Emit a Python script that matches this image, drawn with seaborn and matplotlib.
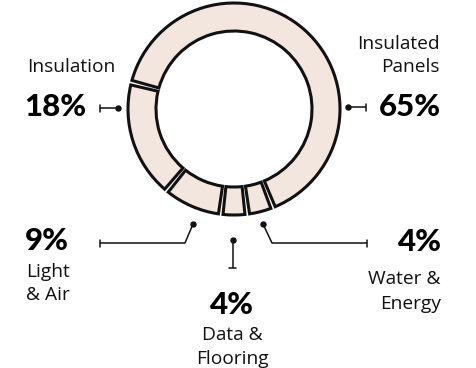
import matplotlib
matplotlib.use("Agg")
import matplotlib.pyplot as plt
import seaborn as sns

# ---- data ----
categories = ["Insulated\nPanels", "Water &\nEnergy", "Data &\nFlooring", "Light\n& Air", "Insulation"]
shares = [65, 4, 4, 9, 18]
pct_labels = [f"{v}%" for v in shares]

sns.set_theme(style="white")
plt.rcParams['font.family'] = ['Lato', 'DejaVu Sans']

W, H = 477, 368
fig = plt.figure(figsize=(W / 100, H / 100), dpi=100)
ax = fig.add_axes([0, 0, 1, 1])

fill = "#f3e6df"
edge = "#111111"
cx, cy, R = 234, 109, 106

wedges, _ = ax.pie(shares, startangle=165.6, counterclock=False,
                   center=(cx, H - cy), radius=R, colors=[fill] * len(shares),
                   wedgeprops=dict(width=28, edgecolor=edge, linewidth=2.2))
gap = 1.25
for w in wedges:
    w.set_theta1(w.theta1 + gap)
    w.set_theta2(w.theta2 - gap)

ax.set_xlim(0, W)
ax.set_ylim(0, H)
ax.set_aspect('equal')
ax.axis('off')

def Y(y):
    return H - y

def connector(pts, tick_end, tick_dir):
    xs = [p[0] for p in pts]
    ys = [Y(p[1]) for p in pts]
    ax.plot(xs, ys, color=edge, lw=1.1, solid_capstyle='butt', zorder=3)
    ax.plot([xs[0]], [ys[0]], 'o', color=edge, ms=3.6, zorder=4)
    tx, ty = tick_end
    if tick_dir == 'v':
        ax.plot([tx, tx], [Y(ty - 3.5), Y(ty + 3.5)], color=edge, lw=1.1)
    else:
        ax.plot([tx - 3.5, tx + 3.5], [Y(ty), Y(ty)], color=edge, lw=1.1)

label_fs = 13.8
pct_fs = 22.5
label_family = ['Open Sans', 'DejaVu Sans']

def lines(text, x, y0, step, ha):
    for i, ln in enumerate(text.split("\n")):
        ax.text(x, Y(y0 + i * step), ln, fontsize=label_fs, ha=ha, va='center_baseline',
                color="#111111", family=label_family)

def pct(text, x, y, ha):
    ax.text(x, Y(y), text, fontsize=pct_fs, fontweight='black', ha=ha, va='center_baseline',
            color="#000000")

# Insulated Panels
lines(categories[0], 440, 42, 23, 'right')
pct(pct_labels[0], 441, 105, 'right')
connector([(348, 107), (366, 107)], (366, 107), 'v')

# Water & Energy
pct(pct_labels[1], 442, 240, 'right')
lines(categories[1], 441, 277, 25, 'right')
connector([(263, 224), (272, 243), (367, 243)], (367, 243), 'v')

# Data & Flooring
pct(pct_labels[2], 232, 303, 'center')
lines(categories[2], 232, 333, 24, 'center')
connector([(233, 240), (233, 268)], (233, 268), 'h')

# Light & Air
pct(pct_labels[3], 25, 239, 'left')
lines(categories[3], 26, 270, 23, 'left')
connector([(193, 224), (185, 243), (100, 243)], (100, 243), 'v')

# Insulation
lines(categories[4], 71, 65, 23, 'center')
pct(pct_labels[4], 24, 104, 'left')
connector([(118, 108), (100, 108)], (100, 108), 'v')

fig.savefig("out.png", dpi=100, facecolor="white")
